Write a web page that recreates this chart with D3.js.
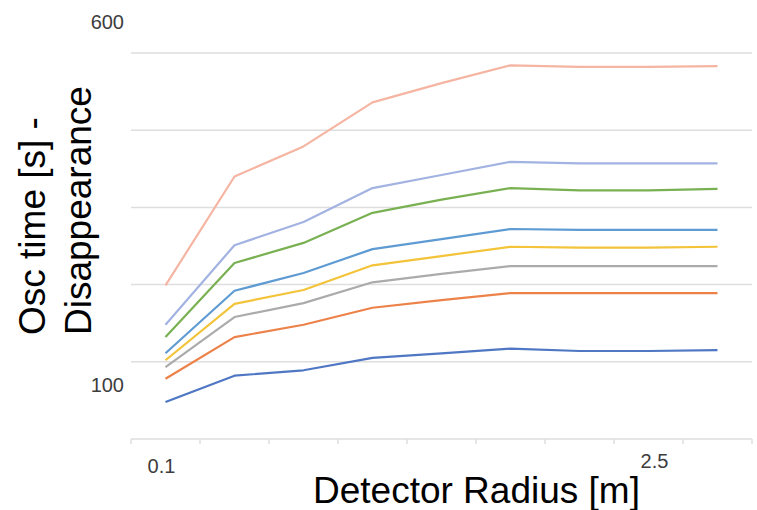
<!DOCTYPE html>
<html>
<head>
<meta charset="utf-8">
<script src="https://cdn.jsdelivr.net/npm/d3@7"></script>
<style>
  html, body { margin: 0; padding: 0; background: #fff; }
  svg { display: block; }
</style>
</head>
<body>
<svg id="chart" width="757" height="510"></svg>
<script>
// ---- data (in gridline units: 100 per gridline) ----
const categories = ["c1","c2","c3","c4","c5","c6","c7","c8","c9"];
const xTickLabels = ["0.1","","","","","","","2.5",""];
const yTickLabels = ["600","100"];
const gridValues = [0, 100, 200, 300, 400, 500];

const series1 = [199, 340, 379, 436, 461, 484, 482, 482, 483];
const series2 = [148, 251, 281, 325, 342, 359, 357, 357, 357];
const series3 = [132, 228, 254, 293, 310, 325, 322, 322, 324];
const series4 = [111, 192, 215, 246, 259, 272, 271, 271, 271];
const series5 = [102, 175, 193, 225, 237, 249, 248, 248, 249];
const series6 = [93, 158, 176, 203, 214, 224, 224, 224, 224];
const series7 = [78, 132, 148, 170, 180, 189, 189, 189, 189];
const series8 = [48, 82, 89, 105, 111, 117, 114, 114, 115];

const seriesList = [series1, series2, series3, series4, series5, series6, series7, series8];
const colors = ["#f5b5a2", "#a2b3e2", "#79b152", "#5f9bd3", "#f3c33a", "#ababab", "#ec8249", "#4f77c3"];

(function () {
  // ---- layout ----
  const svg = d3.select("#chart");
  const pLeft = 131, pRight = 752, pTop = 53, pBottom = 439;

  const x = d3.scaleBand().domain(categories).range([pLeft, pRight]);
  const y = d3.scaleLinear().domain([0, 500]).range([pBottom, pTop]);

  // gridlines
  svg.append("g").selectAll("line")
    .data(gridValues)
    .join("line")
    .attr("x1", pLeft).attr("x2", pRight)
    .attr("y1", d => y(d)).attr("y2", d => y(d))
    .attr("stroke", "#dedede").attr("stroke-width", 1.5);

  // x axis ticks at band boundaries
  const bounds = categories.map(c => x(c)).concat([x(categories[categories.length - 1]) + x.bandwidth()]);
  svg.append("g").selectAll("line")
    .data(bounds)
    .join("line")
    .attr("x1", d => d).attr("x2", d => d)
    .attr("y1", pBottom).attr("y2", pBottom + 5)
    .attr("stroke", "#dedede").attr("stroke-width", 1.5);

  // x tick labels
  svg.append("g").selectAll("text")
    .data(categories.map((c, i) => ({c, label: xTickLabels[i], i})).filter(d => d.label))
    .join("text")
    .attr("x", d => x(d.c) + x.bandwidth() / 2 + (d.i === 0 ? -4 : 6))
    .attr("y", d => d.i === 0 ? 473 : 468)
    .attr("text-anchor", "middle")
    .attr("font-family", "Liberation Sans, Arial, sans-serif")
    .attr("font-size", 20)
    .attr("fill", "#3d3d3d")
    .text(d => d.label);

  // y labels (as placed in the original)
  svg.append("text")
    .attr("x", 124).attr("y", y(500) - 24)
    .attr("text-anchor", "end")
    .attr("font-family", "Liberation Sans, Arial, sans-serif")
    .attr("font-size", 20).attr("fill", "#3d3d3d")
    .text(yTickLabels[0]);
  svg.append("text")
    .attr("x", 124).attr("y", y(0) - 47)
    .attr("text-anchor", "end")
    .attr("font-family", "Liberation Sans, Arial, sans-serif")
    .attr("font-size", 20).attr("fill", "#3d3d3d")
    .text(yTickLabels[1]);

  // lines
  const line = d3.line()
    .x((d, i) => x(categories[i]) + x.bandwidth() / 2)
    .y(d => y(d));

  svg.append("g").selectAll("path")
    .data(seriesList)
    .join("path")
    .attr("d", d => line(d))
    .attr("fill", "none")
    .attr("stroke", (d, i) => colors[i])
    .attr("stroke-width", 2.2)
    .attr("stroke-linejoin", "round");

  // axis titles
  svg.append("text")
    .attr("transform", "translate(45,335) rotate(-90)")
    .attr("font-family", "Liberation Sans, Arial, sans-serif")
    .attr("font-size", 37).attr("fill", "#000")
    .text("Osc time [s] -");
  svg.append("text")
    .attr("transform", "translate(91,335) rotate(-90)")
    .attr("font-family", "Liberation Sans, Arial, sans-serif")
    .attr("font-size", 37).attr("fill", "#000")
    .text("Disappearance");

  svg.append("text")
    .attr("x", 313).attr("y", 503)
    .attr("font-family", "Liberation Sans, Arial, sans-serif")
    .attr("font-size", 37).attr("fill", "#000")
    .text("Detector Radius [m]");
})();
</script>
</body>
</html>
